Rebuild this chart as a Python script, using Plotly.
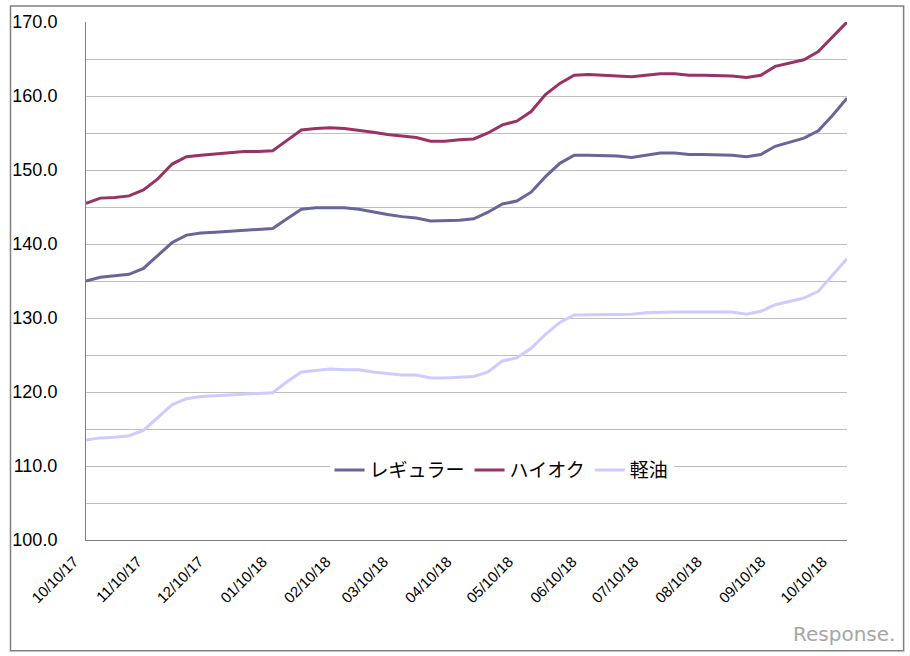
import plotly.graph_objects as go

dates = [
    "2017-10-10", "2017-10-17", "2017-10-24", "2017-10-31",
    "2017-11-07", "2017-11-14", "2017-11-21", "2017-11-28",
    "2017-12-05", "2017-12-12", "2017-12-19", "2017-12-26",
    "2018-01-02", "2018-01-09", "2018-01-16", "2018-01-23", "2018-01-30",
    "2018-02-06", "2018-02-13", "2018-02-20", "2018-02-27",
    "2018-03-06", "2018-03-13", "2018-03-20", "2018-03-27",
    "2018-04-03", "2018-04-10", "2018-04-17", "2018-04-24",
    "2018-05-01", "2018-05-08", "2018-05-15", "2018-05-22", "2018-05-29",
    "2018-06-05", "2018-06-12", "2018-06-19", "2018-06-26",
    "2018-07-03", "2018-07-10", "2018-07-17", "2018-07-24", "2018-07-31",
    "2018-08-07", "2018-08-14", "2018-08-21", "2018-08-28",
    "2018-09-04", "2018-09-11", "2018-09-18", "2018-09-25",
    "2018-10-02", "2018-10-09", "2018-10-16",
]

regular = [
    135.0, 135.5, 135.7, 135.9, 136.7, 138.4, 140.2, 141.2, 141.5, 141.6,
    141.7, 141.9, 142.0, 142.1, 143.4, 144.7, 144.9, 144.9, 144.9, 144.7,
    144.3, 144.0, 143.7, 143.5, 143.1, 143.1, 143.2, 143.4, 144.3, 145.4,
    145.8, 147.0, 149.1, 150.9, 152.0, 152.0, 152.0, 151.9, 151.7, 152.0,
    152.3, 152.3, 152.1, 152.1, 152.1, 152.0, 151.8, 152.1, 153.2, 153.7,
    154.3, 155.3, 157.4, 159.7,
]

high_octane = [
    145.5, 146.2, 146.3, 146.5, 147.3, 148.8, 150.8, 151.8, 152.0, 152.2,
    152.3, 152.5, 152.5, 152.6, 154.0, 155.4, 155.6, 155.7, 155.6, 155.4,
    155.1, 154.8, 154.6, 154.4, 153.9, 153.9, 154.1, 154.2, 155.0, 156.1,
    156.6, 157.9, 160.2, 161.7, 162.8, 162.9, 162.8, 162.7, 162.6, 162.8,
    163.0, 163.0, 162.8, 162.8, 162.8, 162.7, 162.5, 162.8, 164.0, 164.5,
    164.9, 166.0, 168.0, 170.0,
]

diesel = [
    113.5, 113.8, 113.9, 114.1, 114.8, 116.5, 118.3, 119.1, 119.4, 119.5,
    119.6, 119.6, 119.7, 119.9, 121.4, 122.7, 122.9, 123.1, 123.0, 123.0,
    122.7, 122.5, 122.3, 122.3, 121.9, 121.9, 122.0, 122.1, 122.7, 124.2,
    124.6, 125.9, 127.8, 129.4, 130.4, 130.4, 130.4, 130.4, 130.5, 130.7,
    130.8, 130.8, 130.8, 130.8, 130.8, 130.8, 130.5, 130.9, 131.8, 132.3,
    132.7, 133.6, 135.8, 138.0,
]

series_names = ["レギュラー", "ハイオク", "軽油"]
series_colors = ["#666699", "#993366", "#CCCCFF"]

tick_dates = [
    "2017-10-10", "2017-11-10", "2017-12-10", "2018-01-10", "2018-02-10",
    "2018-03-10", "2018-04-10", "2018-05-10", "2018-06-10", "2018-07-10",
    "2018-08-10", "2018-09-10", "2018-10-10",
]
tick_labels = [
    "10/10/17", "11/10/17", "12/10/17", "01/10/18", "02/10/18", "03/10/18",
    "04/10/18", "05/10/18", "06/10/18", "07/10/18", "08/10/18", "09/10/18",
    "10/10/18",
]

fig = go.Figure()
for name, vals, col in zip(series_names, [regular, high_octane, diesel], series_colors):
    fig.add_trace(go.Scatter(
        x=dates, y=vals, mode="lines", name=name,
        line=dict(color=col, width=3),
    ))

fig.update_layout(
    width=910, height=656,
    margin=dict(l=81, r=63, t=21, b=116),
    paper_bgcolor="white", plot_bgcolor="white",
    font=dict(family="Liberation Sans, Arial, sans-serif", color="black"),
    showlegend=True,
    legend=dict(
        orientation="h", x=0.32, y=0.135, xanchor="left", yanchor="middle",
        bgcolor="white", font=dict(family="Noto Sans CJK JP", size=19, color="black"),
        itemwidth=30, tracegroupgap=0,
    ),
    xaxis=dict(
        type="date", range=["2017-10-10", "2018-10-16"],
        tickvals=tick_dates, ticktext=tick_labels, tickangle=-45,
        showgrid=False, showline=True, linecolor="#808080", linewidth=1,
        ticks="", tickfont=dict(size=15), zeroline=False,
        ticklabelstandoff=6, ticklabelshift=-12,
    ),
    yaxis=dict(
        range=[100, 170], dtick=10, tick0=100, tickformat=".1f",
        showgrid=True, gridcolor="#BFBFBF", gridwidth=1,
        minor=dict(dtick=5, showgrid=True, gridcolor="#BFBFBF", gridwidth=1),
        showline=True, linecolor="#808080", linewidth=1,
        ticks="", tickfont=dict(size=18), ticklabelstandoff=24, zeroline=False,
    ),
    shapes=[dict(
        type="rect", xref="paper", yref="paper",
        x0=(5 - 81) / 766, x1=(904 - 81) / 766,
        y0=(540 - 651) / 519, y1=(540 - 5) / 519,
        line=dict(color="#808080", width=1.5), fillcolor="rgba(0,0,0,0)",
        layer="below",
    )],
    annotations=[dict(
        text="Response.", xref="paper", yref="paper",
        x=(897 - 81) / 766, y=(540 - 634) / 519, xanchor="right", yanchor="middle",
        showarrow=False, font=dict(family="DejaVu Sans", size=20, color="#A6A6A6"),
    )],
)

fig.write_html(
    "out.html",
    config={"displayModeBar": False},
    post_script="document.body.style.margin='0px';",
)
